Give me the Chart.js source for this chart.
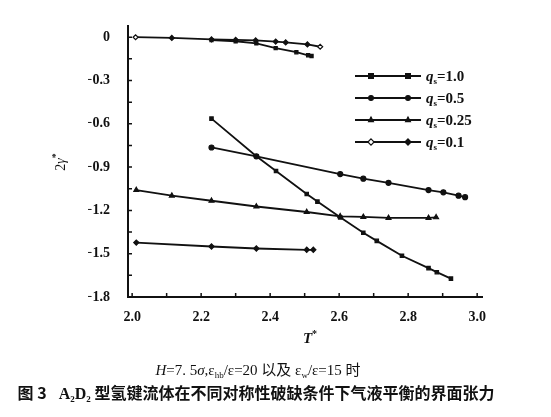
<!DOCTYPE html>
<html>
<head>
<meta charset="utf-8">
<script src="https://cdn.jsdelivr.net/npm/chart.js@4.4.1/dist/chart.umd.min.js"></script>
<style>
  html, body { margin: 0; padding: 0; background: #fff; }
  #wrap { width: 551px; height: 417px; }
</style>
</head>
<body>
<div id="wrap"><canvas id="chart"></canvas></div>
<script>
  // q_s = 1.0
  const t10 = [2.23, 2.36, 2.417, 2.506, 2.537, 2.603, 2.67, 2.709, 2.782, 2.859, 2.883, 2.924];
  const g10 = [-0.564, -0.825, -0.927, -1.086, -1.139, -1.248, -1.355, -1.411, -1.514, -1.600, -1.628, -1.673];
  // q_s = 0.5
  const t05 = [2.23, 2.36, 2.603, 2.67, 2.743, 2.859, 2.902, 2.946, 2.965];
  const g05 = [-0.764, -0.825, -0.948, -0.980, -1.009, -1.059, -1.075, -1.098, -1.108];
  // q_s = 0.25
  const t025 = [2.012, 2.115, 2.23, 2.36, 2.506, 2.603, 2.67, 2.743, 2.859, 2.881];
  const g025 = [-1.059, -1.098, -1.133, -1.173, -1.211, -1.241, -1.245, -1.252, -1.252, -1.248];
  // q_s = 0.1
  const t01 = [2.012, 2.23, 2.36, 2.506, 2.525];
  const g01 = [-1.423, -1.450, -1.464, -1.473, -1.473];
  // the curves close to zero at the top
  const tTopA = [2.01, 2.115, 2.23, 2.30, 2.358, 2.416, 2.445, 2.508, 2.545];
  const gTopA = [0, -0.005, -0.015, -0.018, -0.022, -0.03, -0.036, -0.05, -0.066];
  const tTopB = [2.23, 2.30, 2.36, 2.416, 2.476, 2.51, 2.52];
  const gTopB = [-0.02, -0.028, -0.043, -0.075, -0.104, -0.125, -0.13];

  const legendQ = ['1.0', '0.5', '0.25', '0.1'];

  const xTickValues = [2.0, 2.1, 2.2, 2.3, 2.4, 2.5, 2.6, 2.7, 2.8, 2.9, 3.0];
  const xTickLabels = ['2.0', '', '2.2', '', '2.4', '', '2.6', '', '2.8', '', '3.0'];
  const yTickValues = [0, -0.15, -0.3, -0.45, -0.6, -0.75, -0.9, -1.05, -1.2, -1.35, -1.5, -1.65, -1.8];
  const yTickLabels = ['0', '', '\u22120.3', '', '\u22120.6', '', '\u22120.9', '', '\u22121.2', '', '\u22121.5', '', '\u22121.8'];

  const INK = '#111';
  const SERIF = '"Liberation Serif", "Times New Roman", serif';
  const CJK = '"Noto Sans CJK SC", sans-serif';

  function toPoints(xs, ys) {
    return xs.map((x, i) => ({ x: x, y: ys[i] }));
  }

  function series(label, xs, ys, style, radius, fill) {
    return {
      label: label,
      data: toPoints(xs, ys),
      showLine: true,
      borderColor: INK,
      borderWidth: 1.8,
      pointStyle: style,
      pointRadius: radius,
      pointBorderWidth: 1.2,
      pointBorderColor: INK,
      pointBackgroundColor: fill || INK,
      tension: 0
    };
  }

  const topAFill = tTopA.map((t, i) => (i === 0 || i === tTopA.length - 1) ? '#fff' : INK);

  const datasets = [
    series('q=1.0', t10, g10, 'rect', 2.4),
    series('q=0.5', t05, g05, 'circle', 2.5),
    series('q=0.25', t025, g025, 'triangle', 2.8),
    series('q=0.1', t01, g01, 'rectRot', 2.6),
    series('topA', tTopA, gTopA, 'rectRot', 2.5, topAFill),
    series('topB', tTopB, gTopB, 'rect', 2.2)
  ];

  function drawRich(ctx, parts, x, y, align) {
    let w = 0;
    parts.forEach(p => { ctx.font = p.font; w += ctx.measureText(p.text).width; });
    let cx = align === 'center' ? x - w / 2 : x;
    parts.forEach(p => {
      ctx.font = p.font;
      ctx.fillText(p.text, cx, y + (p.dy || 0));
      cx += ctx.measureText(p.text).width;
    });
  }

  function drawMarker(ctx, style, x, y, r, fill) {
    ctx.save();
    ctx.fillStyle = fill;
    ctx.strokeStyle = INK;
    ctx.lineWidth = 1.2;
    ctx.beginPath();
    if (style === 'rect') {
      ctx.rect(x - r, y - r, 2 * r, 2 * r);
    } else if (style === 'circle') {
      ctx.arc(x, y, r, 0, Math.PI * 2);
    } else if (style === 'triangle') {
      ctx.moveTo(x, y - r * 1.2);
      ctx.lineTo(x + r, y + r * 0.7);
      ctx.lineTo(x - r, y + r * 0.7);
      ctx.closePath();
    } else {
      ctx.moveTo(x, y - r * 1.3);
      ctx.lineTo(x + r * 1.3, y);
      ctx.lineTo(x, y + r * 1.3);
      ctx.lineTo(x - r * 1.3, y);
      ctx.closePath();
    }
    ctx.fill();
    ctx.stroke();
    ctx.restore();
  }

  const decorations = {
    id: 'decorations',
    afterDraw(chart) {
      const ctx = chart.ctx;
      const a = chart.chartArea;
      const xs = chart.scales.x;
      const ys = chart.scales.y;

      // inward tick marks
      ctx.save();
      ctx.strokeStyle = INK;
      ctx.lineWidth = 1.5;
      ctx.beginPath();
      xs.ticks.forEach(t => {
        const p = xs.getPixelForValue(t.value);
        ctx.moveTo(p, a.bottom);
        ctx.lineTo(p, a.bottom - 4);
      });
      ys.ticks.forEach(t => {
        const p = ys.getPixelForValue(t.value);
        ctx.moveTo(a.left, p);
        ctx.lineTo(a.left + 4, p);
      });
      ctx.stroke();
      ctx.restore();

      ctx.save();
      ctx.fillStyle = INK;
      ctx.textBaseline = 'alphabetic';

      // legend
      legendQ.forEach((q, i) => {
        const ds = chart.data.datasets[i];
        const y = 76 + i * 22;
        ctx.save();
        ctx.strokeStyle = INK;
        ctx.lineWidth = 2.2;
        ctx.beginPath();
        ctx.moveTo(355, y);
        ctx.lineTo(421, y);
        ctx.stroke();
        ctx.restore();
        drawMarker(ctx, ds.pointStyle, 371, y, 2.4, i === 3 ? '#fff' : INK);
        drawMarker(ctx, ds.pointStyle, 408, y, 2.4, INK);
        drawRich(ctx, [
          { text: 'q', font: 'italic bold 15px ' + SERIF },
          { text: 's', font: 'bold 9px ' + SERIF, dy: 3 },
          { text: '=' + q, font: 'bold 15px ' + SERIF }
        ], 426, y + 5, 'left');
      });

      // axis titles
      drawRich(ctx, [
        { text: 'T', font: 'italic bold 15px ' + SERIF },
        { text: '*', font: 'bold 10px ' + SERIF, dy: -6 }
      ], 310, 343, 'center');

      ctx.save();
      ctx.translate(65, 162);
      ctx.rotate(-Math.PI / 2);
      drawRich(ctx, [
        { text: '2', font: '14px ' + SERIF },
        { text: 'γ', font: 'italic 14px ' + SERIF },
        { text: '*', font: 'bold 10px ' + SERIF, dy: -6 }
      ], 0, 0, 'center');
      ctx.restore();

      // captions
      const f1 = '15px ' + SERIF + ', ' + CJK;
      drawRich(ctx, [
        { text: 'H', font: 'italic ' + f1 },
        { text: '=7. 5', font: f1 },
        { text: 'σ', font: 'italic ' + f1 },
        { text: ',ε', font: f1 },
        { text: 'hb', font: '9px ' + SERIF, dy: 3 },
        { text: '/ε=20 以及 ε', font: f1 },
        { text: 'w', font: '9px ' + SERIF, dy: 3 },
        { text: '/ε=15 时', font: f1 }
      ], 258, 375, 'center');

      drawRich(ctx, [
        { text: '图 3', font: 'bold 16px ' + CJK },
        { text: '   A', font: 'bold 16px ' + SERIF },
        { text: '2', font: 'bold 9px ' + SERIF, dy: 3 },
        { text: 'D', font: 'bold 16px ' + SERIF },
        { text: '2', font: 'bold 9px ' + SERIF, dy: 3 },
        { text: ' 型氢键流体在不同对称性破缺条件下气液平衡的界面张力', font: 'bold 16px ' + CJK }
      ], 256, 399, 'center');
      ctx.restore();
    }
  };

  new Chart(document.getElementById('chart'), {
    type: 'scatter',
    data: { datasets: datasets },
    options: {
      responsive: true,
      maintainAspectRatio: false,
      animation: false,
      layout: { padding: { left: 88, right: 69, top: 22, bottom: 80 } },
      plugins: {
        legend: { display: false },
        tooltip: { enabled: false }
      },
      scales: {
        x: {
          type: 'linear',
          min: 1.988,
          max: 3.014,
          afterBuildTicks: s => { s.ticks = xTickValues.map(v => ({ value: v })); },
          afterFit: s => { s.height = 40; },
          grid: { display: false, drawTicks: false },
          border: { display: true, color: INK, width: 2 },
          ticks: {
            color: INK,
            padding: 12,
            autoSkip: false,
            maxRotation: 0,
            font: { family: SERIF, size: 14, weight: 'bold' },
            callback: (v, i) => xTickLabels[i]
          }
        },
        y: {
          type: 'linear',
          min: -1.8,
          max: 0.075,
          afterBuildTicks: s => { s.ticks = yTickValues.map(v => ({ value: v })); },
          afterFit: s => { s.width = 40; },
          grid: { display: false, drawTicks: false },
          border: { display: true, color: INK, width: 2 },
          ticks: {
            color: INK,
            padding: 18,
            autoSkip: false,
            font: { family: SERIF, size: 14, weight: 'bold' },
            callback: (v, i) => yTickLabels[i]
          }
        }
      }
    },
    plugins: [decorations]
  });
</script>
</body>
</html>
